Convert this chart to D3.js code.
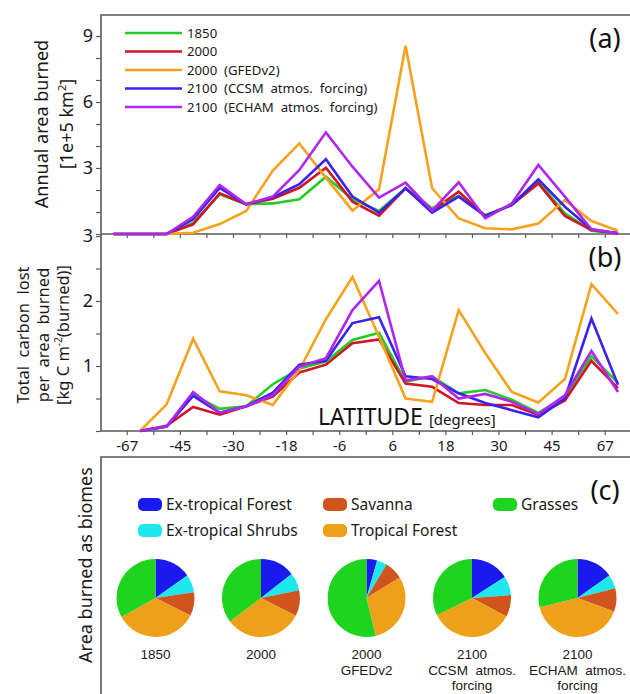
<!DOCTYPE html>
<html>
<head>
<meta charset="utf-8">
<script src="https://cdn.jsdelivr.net/npm/d3@7"></script>
<style>
    html, body { margin: 0; padding: 0; background: #fff; }
    svg { display: block; font-family: "Noto Sans", "DejaVu Sans", sans-serif; }
    text { white-space: pre; }
</style>
</head>
<body>
<div id="chart"></div>
<script>
// latitude bands (20 bins), labels sit between every other pair of points
const latLabels = ['-67', '-45', '-30', '-18', '-6', '6', '18', '30', '45', '67'];
const seriesNames = ['1850', '2000', '2000  (GFEDv2)', '2100  (CCSM  atmos.  forcing)', '2100  (ECHAM  atmos.  forcing)'];

// (a) annual area burned [1e+5 km2]
const area1850 = [0, 0, 0, 0.5, 1.8, 1.35, 1.39, 1.58, 2.6, 1.58, 1.05, 2.08, 1.17, 1.73, 0.85, 1.32, 2.38, 0.94, 0.15, 0.03];
const area2000 = [0, 0, 0, 0.44, 1.85, 1.35, 1.6, 2.1, 3.01, 1.47, 0.83, 2.08, 1.06, 1.92, 0.82, 1.32, 2.3, 0.82, 0.18, 0.03];
const areaGfed = [0, 0, 0, 0.06, 0.45, 1.05, 2.88, 4.12, 2.55, 1.06, 2.03, 8.56, 2.08, 0.71, 0.26, 0.21, 0.48, 1.55, 0.59, 0.15];
const areaCcsm = [0, 0, 0, 0.67, 2.1, 1.35, 1.67, 2.26, 3.4, 1.7, 0.97, 2.08, 0.97, 1.7, 0.82, 1.32, 2.48, 1.24, 0.21, 0.03];
const areaEcham = [0, 0, 0, 0.78, 2.23, 1.35, 1.7, 2.91, 4.62, 3.06, 1.65, 2.33, 1.06, 2.35, 0.71, 1.39, 3.14, 1.7, 0.21, 0.03];

// (b) total carbon lost per area burned [kg C m-2]
const carbon1850 = [null, 0, 0.07, 0.56, 0.34, 0.38, 0.72, 0.96, 1.07, 1.4, 1.51, 0.76, 0.84, 0.58, 0.63, 0.48, 0.28, 0.53, 1.15, 0.74];
const carbon2000 = [null, 0, 0.08, 0.37, 0.25, 0.38, 0.53, 0.9, 1.02, 1.35, 1.41, 0.73, 0.68, 0.43, 0.4, 0.4, 0.25, 0.47, 1.08, 0.66];
const carbonGfed = [null, 0, 0.41, 1.42, 0.61, 0.55, 0.4, 0.94, 1.72, 2.37, 1.45, 0.5, 0.45, 1.86, 1.2, 0.6, 0.44, 0.8, 2.26, 1.8];
const carbonCcsm = [null, 0, 0.07, 0.54, 0.28, 0.38, 0.59, 1.02, 1.08, 1.66, 1.75, 0.84, 0.8, 0.58, 0.43, 0.32, 0.21, 0.5, 1.73, 0.71];
const carbonEcham = [null, 0, 0.07, 0.6, 0.28, 0.38, 0.55, 0.99, 1.12, 1.86, 2.31, 0.78, 0.84, 0.5, 0.57, 0.45, 0.26, 0.55, 1.23, 0.6];

// (c) area burned as biomes [%]
const biomes = ['Ex-tropical Forest', 'Ex-tropical Shrubs', 'Savanna', 'Tropical Forest', 'Grasses'];
const pie1850 = [15.2, 7.4, 9.8, 34.5, 33.1];
const pie2000 = [14.4, 7.4, 10.7, 32.2, 35.3];
const pieGfed = [4.4, 4.2, 7.6, 30.0, 53.8];
const pieCcsm = [15.9, 7.9, 9.1, 34.9, 32.2];
const pieEcham = [15.2, 5.8, 9.6, 40.6, 28.8];
const pieLabels = [['1850'], ['2000'], ['2000', 'GFEDv2'], ['2100', 'CCSM  atmos.', 'forcing'], ['2100', 'ECHAM  atmos.', 'forcing']];

const lineColors = ['#22cc22', '#d01426', '#f5a21c', '#3a22f0', '#b026f0'];
const biomeColors = ['#1a1aee', '#1ee8ee', '#d0541e', '#efa01a', '#1fd41f'];
const axisColor = '#5a5a5a';

const width = 630, height = 694;
const left = 101, right = 630;

const svg = d3.select('#chart').append('svg')
    .attr('width', width)
    .attr('height', height);

const x = d3.scaleLinear().domain([0, 19]).range([113.5, 618]);
const yA = d3.scaleLinear().domain([0, 9]).range([234, 36]);
const yB = d3.scaleLinear().domain([0, 3]).range([431, 236]);

// frames
const frame = svg.append('g')
    .attr('fill', 'none')
    .attr('stroke', axisColor)
    .attr('stroke-width', 1.6);
frame.append('path').attr('d', `M${right},15H${left}V431H${right}`);
frame.append('path').attr('d', `M${left},234H${right}`);
frame.append('path').attr('d', `M${right},457H${left}V${height}`);

// y axes
const yAxisA = d3.axisLeft(yA).tickValues(d3.range(0, 10)).tickSize(5).tickFormat(d => (d % 3 === 0 && d > 0) ? d : '');
const yAxisB = d3.axisLeft(yB).tickValues(d3.range(0, 3.01, 0.5)).tickSize(5).tickFormat(d => (Number.isInteger(d) && d > 0) ? d : '');

const styleAxis = g => {
    g.select('.domain').remove();
    g.selectAll('line').attr('stroke', axisColor).attr('stroke-width', 1.2);
    g.selectAll('text').attr('fill', '#1a1a1a').attr('font-family', '"Noto Sans", sans-serif');
};

svg.append('g')
    .attr('transform', `translate(${left},0)`)
    .call(yAxisA)
    .call(styleAxis)
    .call(g => g.selectAll('text').attr('font-size', 18).attr('x', -8));

svg.append('g')
    .attr('transform', `translate(${left},0)`)
    .call(yAxisB)
    .call(styleAxis)
    .call(g => g.selectAll('text').attr('font-size', 18).attr('x', -8));

// x axes (ticks between bins, labels on every other tick)
const tickIdx = d3.range(0, 19).map(i => i + 0.5);
const xAxisMid = d3.axisBottom(x).tickValues(tickIdx).tickSize(4).tickFormat('');
const xAxisBottom = d3.axisBottom(x).tickValues(tickIdx).tickSize(4).tickPadding(5)
    .tickFormat((d, i) => i % 2 === 0 ? latLabels[i / 2] : '');

svg.append('g').attr('transform', 'translate(0,234)').call(xAxisMid).call(styleAxis);
svg.append('g').attr('transform', 'translate(0,431)').call(xAxisBottom).call(styleAxis)
    .call(g => g.selectAll('text').attr('font-size', 15));

// lines
const drawLines = (sets, y) => {
    const line = d3.line()
        .defined(d => d != null)
        .x((d, i) => x(i))
        .y(d => y(d));
    svg.append('g')
        .selectAll('path')
        .data(sets)
        .join('path')
        .attr('d', d => line(d))
        .attr('fill', 'none')
        .attr('stroke', (d, i) => lineColors[i])
        .attr('stroke-width', 2.6);
};

drawLines([area1850, area2000, areaGfed, areaCcsm, areaEcham], yA);
drawLines([carbon1850, carbon2000, carbonGfed, carbonCcsm, carbonEcham], yB);

// legend (a)
const legA = svg.append('g');
seriesNames.forEach((name, i) => {
    const yy = 33 + i * 18.5;
    legA.append('line')
        .attr('x1', 125).attr('x2', 182)
        .attr('y1', yy).attr('y2', yy)
        .attr('stroke', lineColors[i])
        .attr('stroke-width', 2.6);
    legA.append('text')
        .attr('x', 187).attr('y', yy)
        .attr('dy', '0.35em')
        .attr('font-size', 13.2)
        .attr('fill', '#1a1a1a')
        .text(name);
});

// panel tags
const tag = (label, tx, ty) => svg.append('text')
    .attr('x', tx).attr('y', ty)
    .attr('text-anchor', 'middle')
    .attr('dy', '0.35em')
    .attr('font-size', 27)
    .attr('fill', '#111')
    .text(label);
tag('(a)', 605, 39);
tag('(b)', 605, 258);
tag('(c)', 605, 491);

// y titles
const titleA = svg.append('text')
    .attr('transform', 'translate(54,124) rotate(-90)')
    .attr('text-anchor', 'middle')
    .attr('font-size', 18)
    .attr('fill', '#1a1a1a');
titleA.append('tspan').attr('x', 0).attr('y', -12).attr('dy', '0.35em').text('Annual area burned');
const tA2 = titleA.append('tspan').attr('x', 0).attr('y', 13).attr('dy', '0.35em');
tA2.append('tspan').text('[1e+5 km');
tA2.append('tspan').attr('baseline-shift', 'super').attr('font-size', 11).text('2');
tA2.append('tspan').text(']');

const titleB = svg.append('text')
    .attr('transform', 'translate(43,335) rotate(-90)')
    .attr('text-anchor', 'middle')
    .attr('font-size', 16.5)
    .attr('fill', '#1a1a1a');
titleB.append('tspan').attr('x', 0).attr('y', -20).attr('dy', '0.35em').text('Total  carbon  lost');
titleB.append('tspan').attr('x', 0).attr('y', 0).attr('dy', '0.35em').text('per  area  burned');
const tB3 = titleB.append('tspan').attr('x', 0).attr('y', 20).attr('dy', '0.35em');
tB3.append('tspan').text('[kg C m');
tB3.append('tspan').attr('baseline-shift', 'super').attr('font-size', 10).text('-2');
tB3.append('tspan').text('(burned)]');

svg.append('text')
    .attr('transform', 'translate(86,565) rotate(-90)')
    .attr('text-anchor', 'middle')
    .attr('dy', '0.35em')
    .attr('font-size', 18)
    .attr('fill', '#1a1a1a')
    .text('Area burned as biomes');

// x title
const xt = svg.append('text')
    .attr('x', 318).attr('y', 425)
    .attr('fill', '#111');
xt.append('tspan').attr('font-size', 23).text('LATITUDE');
xt.append('tspan').attr('font-size', 15).attr('dx', 6).text('[degrees]');

// legend (c)
const legC = svg.append('g');
biomes.forEach((b, i) => {
    const col = Math.floor(i / 2), row = i % 2;
    const sx = [138, 323, 493][col];
    const sy = [504.5, 530.5][row];
    legC.append('rect')
        .attr('x', sx).attr('y', sy - 6.5)
        .attr('width', 24).attr('height', 13)
        .attr('rx', 5)
        .attr('fill', biomeColors[i]);
    legC.append('text')
        .attr('x', sx + 28).attr('y', sy)
        .attr('dy', '0.35em')
        .attr('font-size', 15.5)
        .attr('fill', '#1a1a1a')
        .text(b);
});

// pies
const pies = [pie1850, pie2000, pieGfed, pieCcsm, pieEcham];
const pieX = d3.scalePoint().domain(d3.range(pies.length)).range([155.5, 577.5]);
const pie = d3.pie().sort(null);
const arc = d3.arc().innerRadius(0).outerRadius(39);

pies.forEach((vals, k) => {
    const g = svg.append('g').attr('transform', `translate(${pieX(k)},598)`);
    g.selectAll('path')
        .data(pie(vals))
        .join('path')
        .attr('d', arc)
        .attr('fill', (d, i) => biomeColors[i]);
    pieLabels[k].forEach((l, i) => {
        g.append('text')
            .attr('text-anchor', 'middle')
            .attr('font-family', '"Liberation Sans", sans-serif')
            .attr('font-size', 13.5)
            .attr('fill', '#1a1a1a')
            .attr('y', 56 + i * 15.8)
            .attr('dy', '0.35em')
            .text(l);
    });
});
</script>
</body>
</html>
